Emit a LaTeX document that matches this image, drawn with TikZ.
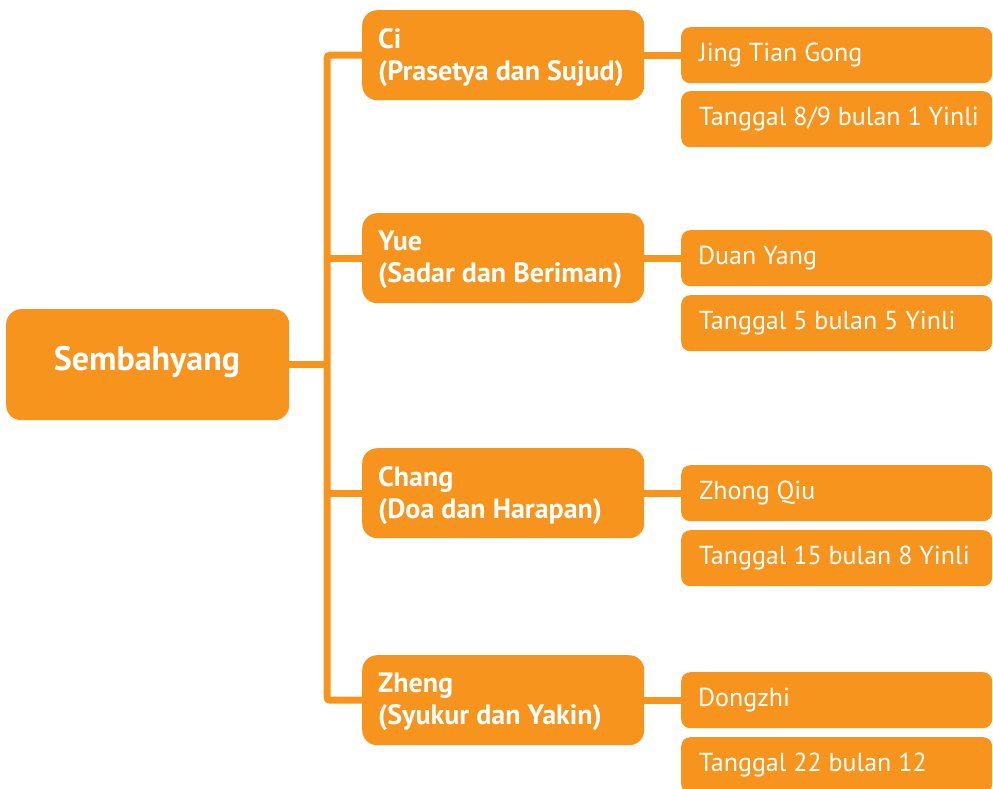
\documentclass[tikz,border=0pt]{standalone}
\usepackage{fontspec}
\setmainfont{PT Sans}
\definecolor{orng}{HTML}{F7941D}
\begin{document}
\begin{tikzpicture}[x=1pt,y=-1pt,
  rootbox/.style={fill=orng,rounded corners=15pt,minimum width=283pt,minimum height=111pt,anchor=north west,inner sep=0pt},
  midbox/.style={fill=orng,rounded corners=15pt,minimum width=282pt,minimum height=90pt,anchor=north west,inner sep=0pt},
  leafbox/.style={fill=orng,rounded corners=9pt,minimum width=311pt,minimum height=56pt,anchor=north west,inner sep=0pt},
  midtxt/.style={anchor=west,align=left,text=white,font=\fontsize{28}{32}\selectfont\bfseries,inner sep=0pt},
  leaftxt/.style={anchor=west,text=white,font=\fontsize{26}{30}\selectfont,inner sep=0pt},
  conn/.style={draw=orng,line width=7pt,rounded corners=3pt}]
\useasboundingbox (0,0) rectangle (993,789);
% root
\node[rootbox] (root) at (6,309) {};
\node[text=white,font=\fontsize{34}{40}\selectfont\bfseries,inner sep=0pt] (roott) at (147,362) {Sembahyang};
% middle boxes
\node[midbox] (ci) at (362,10) {};
\node[midtxt] (cit) at ([xshift=16pt,yshift=-2pt]ci.west) {Ci\\(Prasetya dan Sujud)};
\node[midbox] (yue) at (362,213) {};
\node[midtxt] (yuet) at ([xshift=16pt,yshift=-2pt]yue.west) {Yue\\(Sadar dan Beriman)};
\node[midbox] (chang) at (362,448) {};
\node[midtxt] (changt) at ([xshift=16pt,yshift=-2pt]chang.west) {Chang\\(Doa dan Harapan)};
\node[midbox] (zheng) at (362,655) {};
\node[midtxt] (zhengt) at ([xshift=16pt,yshift=-2pt]zheng.west) {Zheng\\(Syukur dan Yakin)};
% leaf boxes
\node[leafbox] (jing) at (681,27) {};
\node[leaftxt] (jingt) at ([xshift=18pt]jing.west) {Jing Tian Gong};
\node[leafbox] (jingd) at (681,91) {};
\node[leaftxt] (jingdt) at ([xshift=18pt]jingd.west) {Tanggal 8/9 bulan 1 Yinli};
\node[leafbox] (duan) at (681,230) {};
\node[leaftxt] (duant) at ([xshift=17pt]duan.west) {Duan Yang};
\node[leafbox] (duand) at (681,295) {};
\node[leaftxt] (duandt) at ([xshift=18pt]duand.west) {Tanggal 5 bulan 5 Yinli};
\node[leafbox] (zhong) at (681,465) {};
\node[leaftxt] (zhongt) at ([xshift=18pt]zhong.west) {Zhong Qiu};
\node[leafbox] (zhongd) at (681,530) {};
\node[leaftxt] (zhongdt) at ([xshift=18pt]zhongd.west) {Tanggal 15 bulan 8 Yinli};
\node[leafbox] (dong) at (681,672) {};
\node[leaftxt] (dongt) at ([xshift=17pt]dong.west) {Dongzhi};
\node[leafbox] (dongd) at (681,737) {};
\node[leaftxt] (dongdt) at ([xshift=18pt]dongd.west) {Tanggal 22 bulan 12};
% connectors
\coordinate (tk) at (327,0);
\draw[conn] (ci.west) -- (ci.west -| tk) -- (zheng.west -| tk) -- (zheng.west);
\draw[conn] (root.east) -- (root.east -| tk);
\draw[conn] (yue.west) -- (yue.west -| tk);
\draw[conn] (chang.west) -- (chang.west -| tk);
\draw[conn] (ci.east) -- (jing.west);
\draw[conn] (yue.east) -- (duan.west);
\draw[conn] (chang.east) -- (zhong.west);
\draw[conn] (zheng.east) -- (dong.west);
\end{tikzpicture}
\end{document}
